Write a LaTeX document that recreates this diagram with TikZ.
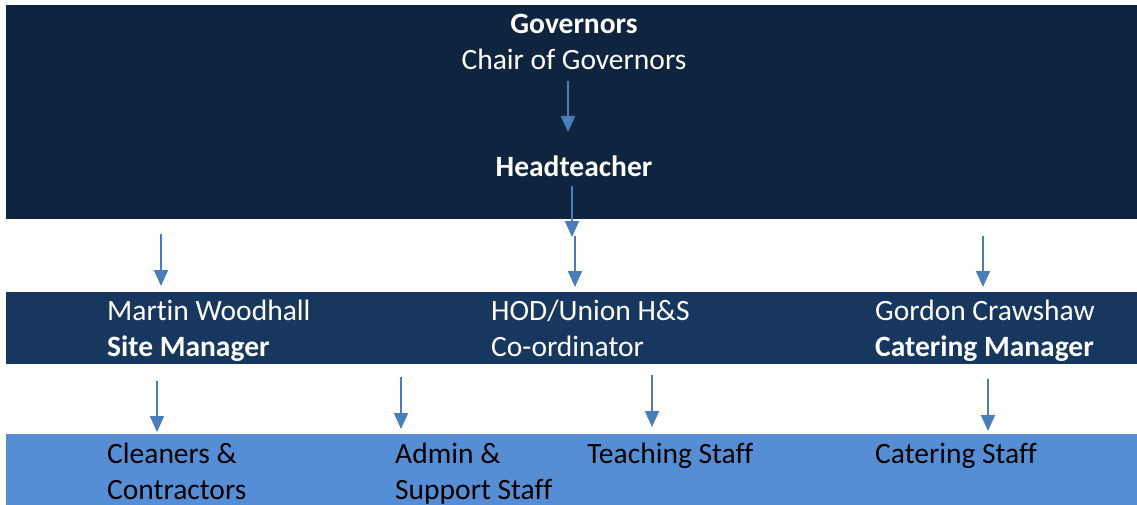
\documentclass[tikz,border=0pt]{standalone}
\usepackage{fontspec}
\setmainfont{Carlito}[Ligatures=NoCommon]
\usepackage{tikz}
\usetikzlibrary{positioning, arrows.meta}
\definecolor{navydark}{HTML}{0F243E}
\definecolor{navymid}{HTML}{17375E}
\definecolor{bandlight}{HTML}{558ED5}
\definecolor{linkblue}{HTML}{4A7EBB}
\tikzset{
band/.style = {
     draw=none
   },
link/.style = {
     -{Triangle[width=14pt,length=16pt]},
     draw=linkblue,
     line width=2pt
     },
band text/.style = {
    font=\fontsize{29.5}{36}\selectfont,
    text=white,
    align=left,
    inner sep=0pt,
    anchor=base west
  },
band title/.style = {
    band text,
    align=center,
    anchor=base
  }
}
\begin{document}
\begin{tikzpicture}[x=1pt,y=-1pt]
\useasboundingbox (0,0) rectangle (1137,505);
% bands
\fill[band, navydark] (6,5) rectangle (1137,219);
\fill[band, navymid] (6,292) rectangle (1137,364);
\fill[band, bandlight] (6,434) rectangle (1137,505);
% texts (base = last line)
\node[band title] (governors) at (574,70) {\textbf{Governors}\\Chair of Governors};
\node[band title] (head) at (574,177) {\textbf{Headteacher}};
\node[band text] (site) at (107,356) {Martin Woodhall\\\textbf{Site Manager}};
\node[band text] (hod) at (491,356) {HOD/Union H\&S\\Co-ordinator};
\node[band text] (catering) at (875,356) {Gordon Crawshaw\\\textbf{Catering Manager}};
\node[band text, text=black] (cleaners) at (107,499) {Cleaners \&\\Contractors};
\node[band text, text=black] (admin) at (395,499) {Admin \&\\Support Staff};
\node[band text, text=black] (teaching) at (587,463) {Teaching Staff};
\node[band text, text=black] (cstaff) at (875,463) {Catering Staff};
% arrows
\foreach \name/\x/\ya/\yb in {a/568/81/132, b/572/186/237, c/575/236/287, d/161/234/286,
    e/983/236/287, f/157/381/432, g/401/377/429, h/652/375/427, i/988/379/431} {
  \coordinate (\name s) at (\x,\ya);
  \coordinate (\name e) at (\x,\yb);
  \draw[link] (\name s) -- (\name e);
}
\end{tikzpicture}
\end{document}
